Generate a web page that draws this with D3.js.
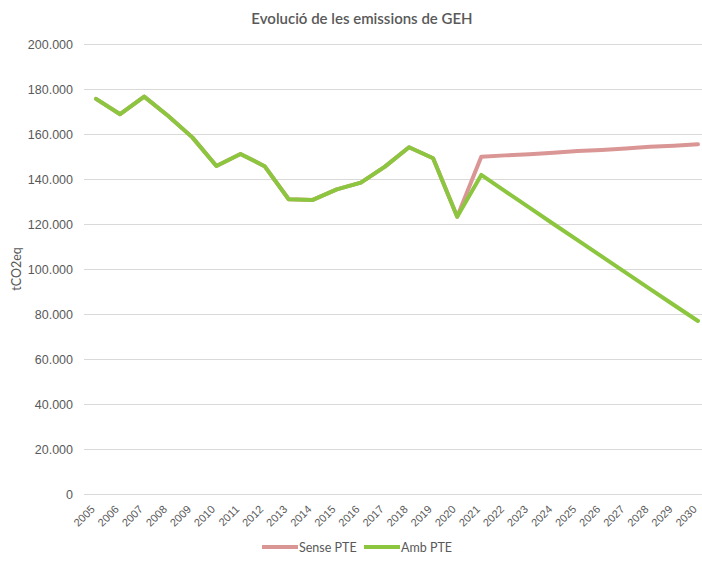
<!DOCTYPE html>
<html>
<head>
<meta charset="utf-8">
<script src="https://cdn.jsdelivr.net/npm/d3@7"></script>
<style>
  html, body { margin: 0; padding: 0; background: #fff; }
  svg { display: block; font-family: Lato, "Open Sans", sans-serif; }
</style>
</head>
<body>
<svg id="chart" width="702" height="569"></svg>
<script>
// Years on the category axis
const years = ["2005","2006","2007","2008","2009","2010","2011","2012","2013","2014","2015","2016","2017",
  "2018","2019","2020","2021","2022","2023","2024","2025","2026","2027","2028","2029","2030"];

// Emissions without the plan (tCO2eq)
const senseValues = [175600,168800,176600,168000,158500,145800,151100,145700,131000,130700,135400,138400,145500,
  154100,149200,123200,149900,150500,151000,151700,152400,152900,153600,154300,154800,155400];

// Emissions with the plan (tCO2eq)
const ambValues = [175600,168800,176600,168000,158500,145800,151100,145700,131000,130700,135400,138400,145500,
  154100,149200,123200,141800,134500,127300,120000,112800,105600,98400,91200,84000,76900];

const yTicks = [0,20000,40000,60000,80000,100000,120000,140000,160000,180000,200000];

const seriesNames = ["Sense PTE", "Amb PTE"];
const seriesColors = ["#d99694", "#8cc63f"];

const svg = d3.select("#chart");
const margin = { left: 84, right: -8, top: 44, bottom: 75 };
const W = 702, H = 569;

const x = d3.scalePoint().domain(years).range([margin.left, W - margin.right]).padding(0.5);
const y = d3.scaleLinear().domain([0, 200000]).range([H - margin.bottom, margin.top]);

const fmt = v => v === 0 ? "0" : d3.format(",")(v).replace(/,/g, ".");

// Horizontal gridlines and value labels
const yAxis = d3.axisLeft(y).tickValues(yTicks).tickFormat(fmt)
  .tickSize(-(W - margin.right - margin.left)).tickPadding(11);
const gy = svg.append("g").attr("transform", `translate(${margin.left},0)`).call(yAxis);
gy.select(".domain").remove();
gy.selectAll(".tick line").attr("stroke", "#d9d9d9").attr("stroke-width", 1);
gy.selectAll(".tick text").attr("fill", "#595959").style("font-size", "12.5px");

// Year labels, rotated
const xAxis = d3.axisBottom(x).tickSize(0).tickPadding(0);
const gx = svg.append("g").attr("transform", `translate(0,${y(0)})`).call(xAxis);
gx.select(".domain").remove();
gx.selectAll(".tick text")
  .attr("fill", "#595959")
  .style("font-size", "11px")
  .attr("text-anchor", "end")
  .attr("dy", "0")
  .attr("transform", "translate(-1,16) rotate(-45)");

// Axis title
svg.append("text")
  .attr("transform", `translate(21,${(y(0) + y(200000)) / 2}) rotate(-90)`)
  .attr("text-anchor", "middle")
  .attr("fill", "#595959")
  .style("font-size", "12.5px")
  .text("tCO2eq");

// Chart title
svg.append("text")
  .attr("x", 362).attr("y", 24)
  .attr("text-anchor", "middle")
  .attr("fill", "#595959")
  .style("font-size", "15px")
  .style("font-weight", "600")
  .text("Evolució de les emissions de GEH");

// Lines
const line = d3.line().x((d, i) => x(years[i])).y(d => y(d));
[senseValues, ambValues].forEach((vals, k) => {
  svg.append("path")
    .datum(vals)
    .attr("d", line)
    .attr("fill", "none")
    .attr("stroke", seriesColors[k])
    .attr("stroke-width", 4)
    .attr("stroke-linejoin", "round")
    .attr("stroke-linecap", "round");
});

// Legend
const legendY = 547;
const legendItems = [{ x: 262, name: seriesNames[0], color: seriesColors[0] },
                     { x: 364, name: seriesNames[1], color: seriesColors[1] }];
legendItems.forEach(it => {
  svg.append("line")
    .attr("x1", it.x).attr("x2", it.x + 36)
    .attr("y1", legendY).attr("y2", legendY)
    .attr("stroke", it.color).attr("stroke-width", 4);
  svg.append("text")
    .attr("x", it.x + 37).attr("y", legendY + 4.5)
    .attr("fill", "#595959")
    .style("font-size", "12.5px")
    .text(it.name);
});
</script>
</body>
</html>
